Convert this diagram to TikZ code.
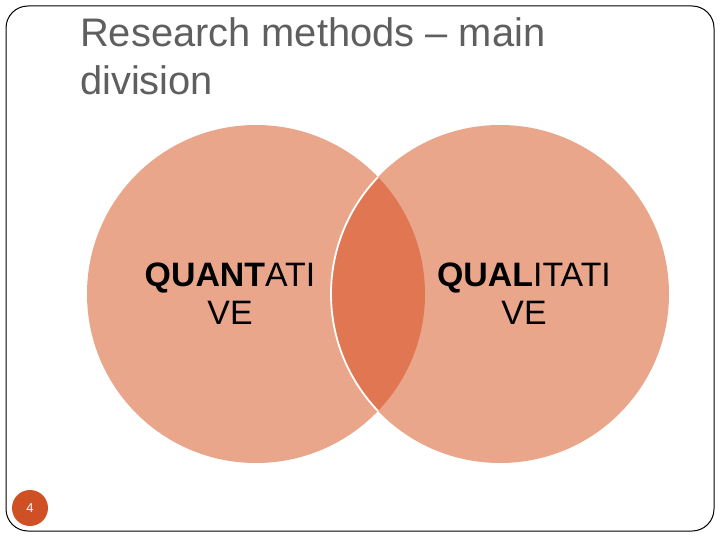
\documentclass[tikz,border=0pt]{standalone}
\usepackage{fontspec}
\setmainfont{Liberation Sans}
\definecolor{venn}{RGB}{233,166,139}
\definecolor{lens}{RGB}{224,119,82}
\definecolor{titlegray}{RGB}{95,95,95}
\definecolor{pagedot}{RGB}{208,80,38}
\tikzset{
  title/.style={anchor=base west, inner sep=0pt, text=titlegray, font=\fontsize{40}{48}\selectfont},
  venntext/.style={align=center, inner sep=0pt, font=\fontsize{34}{38}\selectfont},
}
\begin{document}
\begin{tikzpicture}[x=1bp,y=-1bp]
\useasboundingbox (0,0) rectangle (720,540);
\fill[white] (0,0) rectangle (720,540);
% slide frame
\draw[line width=1bp, rounded corners=22bp] (6,6) rectangle (714,531);
% title
\node[title] (title1) at (80,47) {Research methods -- main};
\node[title] (title2) at (80,95) {division};
% venn circles
\fill[venn] (256,294) circle (169bp);
\fill[venn] (500,294) circle (169bp);
\begin{scope}
\clip (256,294) circle (169bp);
\fill[lens] (500,294) circle (169bp);
\draw[white, line width=1.8bp] (500,294) circle (169bp);
\end{scope}
\node[venntext] (quant) at (230,294) {\textbf{QUANT}ATI\\VE};
\node[venntext] (qual) at (524,294) {\textbf{QUAL}ITATI\\VE};
% page number
\node[circle, fill=pagedot, minimum size=36bp, inner sep=0pt, text=white, font=\fontsize{13}{15}\selectfont] (page) at (30,508) {4};
\end{tikzpicture}
\end{document}
